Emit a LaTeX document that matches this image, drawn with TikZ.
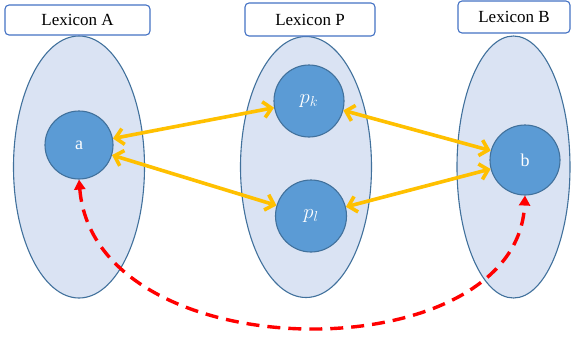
\documentclass[tikz,border=0pt]{standalone}
\usepackage{fontspec}
\setmainfont{Liberation Serif}
\usetikzlibrary{shapes.geometric,arrows.meta}
\definecolor{setfill}{HTML}{DAE3F3}
\definecolor{setline}{HTML}{41719C}
\definecolor{elfill}{HTML}{5B9BD5}
\definecolor{gold}{HTML}{FFC000}
\definecolor{lblline}{HTML}{4472C4}
\tikzset{
  lexset/.style={ellipse, draw=setline, fill=setfill, line width=1.1pt, inner sep=0pt},
  elem/.style={circle, draw=setline, fill=elfill, line width=1.1pt, inner sep=0pt, text=white, font=\fontsize{18}{20}\selectfont},
  melem/.style={elem, ellipse, font=\fontsize{22}{24}\selectfont},
  lbl/.style={rectangle, rounded corners=4pt, draw=lblline, line width=1.1pt, fill=white, inner sep=0pt, font=\fontsize{17}{19}\selectfont},
  goldarrow/.style={draw=gold, line width=3.6pt, {Straight Barb[length=8pt,width=16pt]}-{Straight Barb[length=8pt,width=16pt]}},
  redarrow/.style={draw=red, line width=3.4pt, dash pattern=on 13pt off 8pt, {Triangle[length=10pt,width=11pt]}-{Triangle[length=10pt,width=11pt]}}
}
\begin{document}
\begin{tikzpicture}[x=1pt,y=-1pt]
\useasboundingbox (0,0) rectangle (571,338);
% sets
\node[lexset, minimum width=131pt, minimum height=262pt] (A) at (79,167) {};
\node[lexset, minimum width=131pt, minimum height=261pt] (P) at (306,167) {};
\node[lexset, minimum width=113pt, minimum height=262pt] (B) at (513.5,167) {};
% labels
\node[lbl, minimum width=145pt, minimum height=30pt] (LA) at (77.5,20) {Lexicon A};
\node[lbl, minimum width=130pt, minimum height=33pt] (LP) at (310,19.5) {Lexicon P};
\node[lbl, minimum width=112pt, minimum height=32pt] (LB) at (514,17) {Lexicon B};
% elements
\node[elem, minimum size=68pt] (a) at (79,145) {a};
\node[melem, minimum width=70pt, minimum height=72pt] (pk) at (309,101) {$p_k$};
\node[melem, minimum width=71pt, minimum height=72pt] (pl) at (311,216) {$p_l$};
\node[elem, minimum size=70pt] (b) at (525,160) {b};
% gold arrows
\draw[goldarrow] (a) -- (pk);
\draw[goldarrow] (a) -- (pl);
\draw[goldarrow] (pk) -- (b);
\draw[goldarrow] (pl) -- (b);
% red dashed
\draw[redarrow] (a.south) .. controls (95,373) and (517,373) .. (b.south);
\end{tikzpicture}
\end{document}
